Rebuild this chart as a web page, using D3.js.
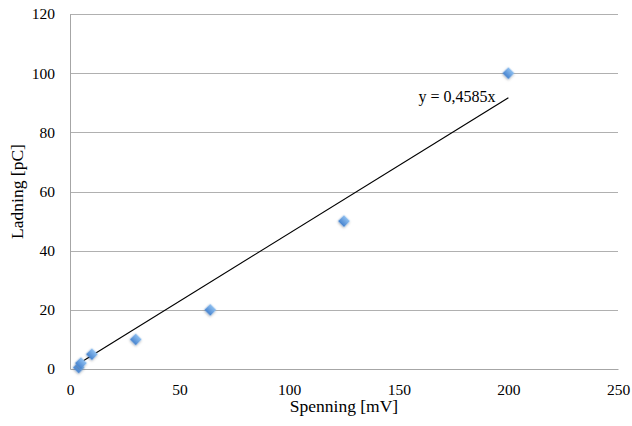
<!DOCTYPE html>
<html lang="en">
  <head>
    <meta charset="UTF-8" />
    <title>Ladning vs Spenning</title>
    <script src="https://cdn.jsdelivr.net/npm/d3@7"></script>
    <style>
      body { margin: 0; background: #fff; }
      .axis path.domain { stroke: #a6a6a6; }
      .grid line { stroke: #b0b0b0; stroke-width: 1; }
    </style>
  </head>
  <body>
    <script>
      // data
      var spenning = [4, 5, 10, 30, 64, 125, 200];     // mV
      var ladning  = [0.5, 2, 5, 10, 20, 50, 100];     // pC
      var slope = 0.4585;
      var xTicks = [0, 50, 100, 150, 200, 250];
      var yTicks = [0, 20, 40, 60, 80, 100, 120];

      var serif = "Liberation Serif";

      var w = 632,
          h = 426;

      var margin = { top: 14, right: 14, bottom: 57, left: 70 };
      var iw = w - margin.left - margin.right,
          ih = h - margin.top - margin.bottom;

      var svg = d3.select("body").append("svg")
        .attr("width", w)
        .attr("height", h)
        .attr("font-family", serif);

      var defs = svg.append("defs");
      var grad = defs.append("linearGradient")
        .attr("id", "dia")
        .attr("x1", "0").attr("y1", "0")
        .attr("x2", "0").attr("y2", "1");
      grad.append("stop").attr("offset", "0%").attr("stop-color", "#8fc0f0");
      grad.append("stop").attr("offset", "100%").attr("stop-color", "#4683cf");

      var shadow = defs.append("filter").attr("id", "sh")
        .attr("x", "-50%").attr("y", "-50%").attr("width", "200%").attr("height", "200%");
      shadow.append("feDropShadow")
        .attr("dx", 0.5).attr("dy", 1).attr("stdDeviation", 0.8)
        .attr("flood-color", "#000").attr("flood-opacity", 0.3);

      var g = svg.append("g")
        .attr("transform", "translate(" + margin.left + "," + margin.top + ")");

      var xScale = d3.scaleLinear().domain([0, 250]).range([0, iw]);
      var yScale = d3.scaleLinear().domain([0, 120]).range([ih, 0]);

      // horizontal gridlines
      g.append("g")
        .attr("class", "grid")
        .selectAll("line")
        .data(yTicks.filter(function(d) { return d > 0; }))
        .enter()
        .append("line")
        .attr("x1", 0)
        .attr("x2", iw)
        .attr("y1", function(d) { return Math.round(yScale(d)) + 0.5; })
        .attr("y2", function(d) { return Math.round(yScale(d)) + 0.5; });

      var xAxis = d3.axisBottom(xScale)
        .tickValues(xTicks)
        .tickSize(0)
        .tickPadding(15);

      var yAxis = d3.axisLeft(yScale)
        .tickValues(yTicks)
        .tickSize(0)
        .tickPadding(15);

      var gx = g.append("g")
        .attr("class", "axis")
        .attr("transform", "translate(0," + ih + ")")
        .call(xAxis);

      var gy = g.append("g")
        .attr("class", "axis")
        .call(yAxis);

      [gx, gy].forEach(function(ax) {
        ax.selectAll("text")
          .style("font-family", serif)
          .style("font-size", "15.5px");
      });

      // linear trendline through origin, over the data range
      var xr = d3.extent(spenning);
      var line = d3.line()
        .x(function(d) { return xScale(d); })
        .y(function(d) { return yScale(d * slope); });

      g.append("path")
        .datum([5, xr[1]])
        .attr("d", line)
        .attr("fill", "none")
        .attr("stroke", "#000")
        .attr("stroke-width", 1.2);

      // diamond markers
      var diamond = d3.symbol().type(d3.symbolSquare).size(72);
      g.selectAll(".pt")
        .data(spenning)
        .enter()
        .append("path")
        .attr("class", "pt")
        .attr("d", diamond)
        .attr("transform", function(d, i) {
          return "translate(" + xScale(d) + "," + yScale(ladning[i]) + ") rotate(45)";
        })
        .attr("fill", "url(#dia)")
        .attr("filter", "url(#sh)");

      g.append("text")
        .attr("x", xScale(200) - 90)
        .attr("y", yScale(92) + 5)
        .attr("font-size", 16)
        .text("y = 0,4585x");

      svg.append("text")
        .attr("x", margin.left + iw / 2)
        .attr("y", 412)
        .attr("text-anchor", "middle")
        .attr("font-size", 17.5)
        .text("Spenning [mV]");

      svg.append("text")
        .attr("transform", "translate(23," + (margin.top + ih / 2) + ") rotate(-90)")
        .attr("text-anchor", "middle")
        .attr("font-size", 17.5)
        .text("Ladning [pC]");
    </script>
  </body>
</html>
